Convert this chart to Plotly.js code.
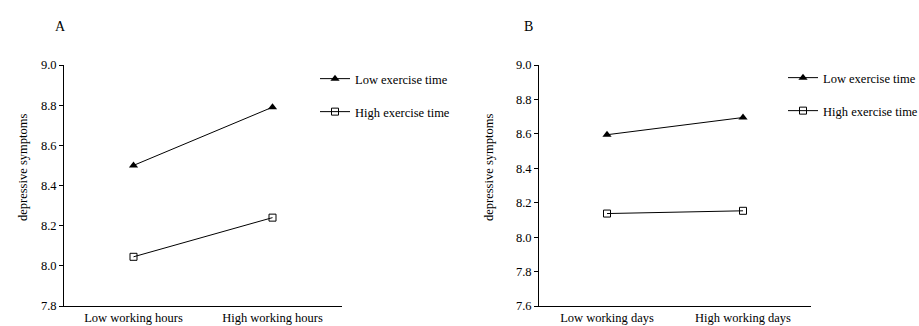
<!DOCTYPE html>
<html>
<head>
<meta charset="utf-8">
<script src="https://cdn.plot.ly/plotly-3.0.1.min.js"></script>
<style>html,body{margin:0;padding:0;background:#fff;overflow:hidden;}#chart{width:960px;height:326px;}</style>
</head>
<body>
<div id="chart"></div>
<script>
const catsA = ["Low working hours", "High working hours"];
const catsB = ["Low working days", "High working days"];
const lowExA = [8.50, 8.79];
const highExA = [8.045, 8.24];
const lowExB = [8.595, 8.695];
const highExB = [8.137, 8.153];
const seriesNames = ["Low exercise time", "High exercise time"];
const yTicksA = [7.8, 8.0, 8.2, 8.4, 8.6, 8.8, 9.0];
const yTicksB = [7.6, 7.8, 8.0, 8.2, 8.4, 8.6, 8.8, 9.0];
const panelLabels = ["A", "B"];
const yTitle = "depressive symptoms";

const W = 960, H = 326;
const FONT = "Liberation Serif";
const FS = 12.5;
const triMarker = {symbol: "triangle-up", size: 8, color: "#000"};
const sqMarker = {symbol: "square-open", size: 7, color: "#000", line: {width: 1, color: "#000"}};
const lineStyle = {color: "#000", width: 1};

const traces = [
  {x: [0, 1], y: lowExA, name: seriesNames[0], mode: "lines+markers", marker: triMarker, line: lineStyle, xaxis: "x", yaxis: "y", legend: "legend"},
  {x: [0, 1], y: highExA, name: seriesNames[1], mode: "lines+markers", marker: sqMarker, line: lineStyle, xaxis: "x", yaxis: "y", legend: "legend2"},
  {x: [0, 1], y: lowExB, name: seriesNames[0], mode: "lines+markers", marker: triMarker, line: lineStyle, xaxis: "x2", yaxis: "y2", legend: "legend3"},
  {x: [0, 1], y: highExB, name: seriesNames[1], mode: "lines+markers", marker: sqMarker, line: lineStyle, xaxis: "x2", yaxis: "y2", legend: "legend4"}
];

const yDom = [1 - 306 / H, 1 - 65 / H];
function xAx(dom, cats) {
  return {domain: dom, range: [-0.5, 1.5], tickmode: "array", tickvals: [0, 1], ticktext: cats,
    showline: true, linecolor: "#000", linewidth: 1, ticks: "", showgrid: false, zeroline: false,
    ticklabelstandoff: 0,
    tickfont: {family: FONT, size: FS, color: "#000"}, fixedrange: true};
}
function yAx(dom, rng, tv, anchor) {
  return {domain: dom, range: rng, tickmode: "array", tickvals: tv, ticktext: tv.map(v => v.toFixed(1)),
    showline: true, linecolor: "#000", linewidth: 1, ticks: "outside", ticklen: 4, tickcolor: "#000",
    showgrid: false, zeroline: false, anchor: anchor,
    tickfont: {family: FONT, size: FS, color: "#000"}, fixedrange: true};
}
function leg(xpx, ypx) {
  return {x: xpx / W, y: 1 - ypx / H, xanchor: "left", yanchor: "middle", bgcolor: "rgba(0,0,0,0)",
    font: {family: FONT, size: FS, color: "#000"}, itemwidth: 30};
}

const layout = {
  width: W, height: H,
  margin: {l: 0, r: 0, t: 0, b: 0},
  paper_bgcolor: "#fff", plot_bgcolor: "#fff",
  showlegend: true,
  xaxis: xAx([64 / W, 342 / W], catsA),
  yaxis: yAx(yDom, [7.8, 9.0], yTicksA, "x"),
  xaxis2: xAx([539 / W, 811 / W], catsB),
  yaxis2: yAx(yDom, [7.6, 9.0], yTicksB, "x2"),
  legend: leg(315, 79),
  legend2: leg(315, 112),
  legend3: leg(783, 78),
  legend4: leg(783, 111),
  annotations: [
    {text: panelLabels[0], x: 53 / W, y: 1 - 17 / H, xref: "paper", yref: "paper", showarrow: false, font: {family: FONT, size: 14, color: "#000"}},
    {text: panelLabels[1], x: 528 / W, y: 1 - 17 / H, xref: "paper", yref: "paper", showarrow: false, font: {family: FONT, size: 14, color: "#000"}},
    {text: yTitle, textangle: -90, x: 14 / W, y: 1 - 168 / H, xref: "paper", yref: "paper", showarrow: false, font: {family: FONT, size: FS, color: "#000"}},
    {text: yTitle, textangle: -90, x: 489 / W, y: 1 - 168 / H, xref: "paper", yref: "paper", showarrow: false, font: {family: FONT, size: FS, color: "#000"}}
  ]
};

Plotly.newPlot("chart", traces, layout, {displayModeBar: false, staticPlot: true});
</script>
</body>
</html>
